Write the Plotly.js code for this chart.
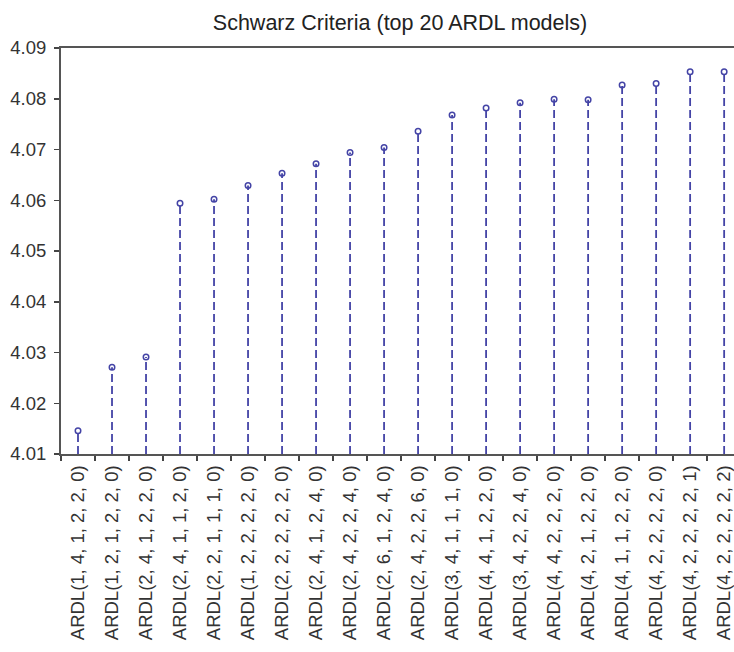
<!DOCTYPE html>
<html>
<head>
<meta charset="utf-8">
<script src="https://cdn.plot.ly/plotly-3.0.1.min.js"></script>
<style>html,body{margin:0;padding:0;background:#fff;overflow:hidden;}</style>
</head>
<body>
<div id="chart" style="width:734px;height:652px;"></div>
<script>
const models = [
  "ARDL(1, 4, 1, 2, 2, 0)", "ARDL(1, 2, 1, 2, 2, 0)", "ARDL(2, 4, 1, 2, 2, 0)",
  "ARDL(2, 4, 1, 1, 2, 0)", "ARDL(2, 2, 1, 1, 1, 0)", "ARDL(1, 2, 2, 2, 2, 0)",
  "ARDL(2, 2, 2, 2, 2, 0)", "ARDL(2, 4, 1, 2, 4, 0)", "ARDL(2, 4, 2, 2, 4, 0)",
  "ARDL(2, 6, 1, 2, 4, 0)", "ARDL(2, 4, 2, 2, 6, 0)", "ARDL(3, 4, 1, 1, 1, 0)",
  "ARDL(4, 4, 1, 2, 2, 0)", "ARDL(3, 4, 2, 2, 4, 0)", "ARDL(4, 4, 2, 2, 2, 0)",
  "ARDL(4, 2, 1, 2, 2, 0)", "ARDL(4, 1, 1, 2, 2, 0)", "ARDL(4, 2, 2, 2, 2, 0)",
  "ARDL(4, 2, 2, 2, 2, 1)", "ARDL(4, 2, 2, 2, 2, 2)"
];
const schwarz = [
  4.0146, 4.0271, 4.0291, 4.0594, 4.0602, 4.0629, 4.0653, 4.0672, 4.0694, 4.0704,
  4.0736, 4.0768, 4.0782, 4.0792, 4.0799, 4.0798, 4.0827, 4.0830, 4.0853, 4.0853
];
const baseline = 4.01;
const yTicks = [4.01, 4.02, 4.03, 4.04, 4.05, 4.06, 4.07, 4.08, 4.09];

const stemX = [], stemY = [];
models.forEach((m, i) => { stemX.push(m, m, null); stemY.push(baseline, schwarz[i], null); });

const col = '#4444a6';
const data = [
  { type: 'scatter', mode: 'lines', x: stemX, y: stemY, hoverinfo: 'skip',
    line: { color: col, width: 1.8, dash: '8px,4px' }, showlegend: false },
  { type: 'scatter', mode: 'markers', x: models, y: schwarz,
    marker: { symbol: 'circle-open', size: 5.5, color: col, line: { color: col, width: 1.5 } },
    showlegend: false }
];

const layout = {
  width: 734, height: 652,
  margin: { l: 61, r: 0, t: 48, b: 197.5 },
  paper_bgcolor: '#fff', plot_bgcolor: '#fff',
  font: { family: 'Arial, "Liberation Sans", sans-serif', color: '#333', size: 18 },
  title: { text: 'Schwarz Criteria (top 20 ARDL models)', x: 0.545, xref: 'container', xanchor: 'center',
           y: 0.965, yref: 'container', yanchor: 'middle',
           font: { family: 'Arial, "Liberation Sans", sans-serif', size: 21.5, color: '#222' } },
  xaxis: {
    type: 'category', categoryorder: 'array', categoryarray: models,
    range: [-0.5, 19.29], tickangle: -90, tickson: 'boundaries',
    ticks: 'outside', ticklen: 5, tickcolor: '#444', tickwidth: 1.5,
    showline: true, linecolor: '#555', linewidth: 2, mirror: true,
    showgrid: false, zeroline: false, fixedrange: true,
    ticklabelstandoff: 2,
    tickfont: { size: 18.5, color: '#333' }
  },
  yaxis: {
    range: [4.01, 4.09], tickvals: yTicks, ticktext: yTicks.map(v => v.toFixed(2)),
    ticks: 'outside', ticklen: 5, tickcolor: '#444', tickwidth: 1.5,
    showline: true, linecolor: '#555', linewidth: 2,
    showgrid: false, zeroline: false, fixedrange: true,
    ticklabelstandoff: 4,
    tickfont: { size: 18.5, color: '#333' }
  },
  showlegend: false
};

Plotly.newPlot('chart', data, layout, { displayModeBar: false, staticPlot: true });
</script>
</body>
</html>
